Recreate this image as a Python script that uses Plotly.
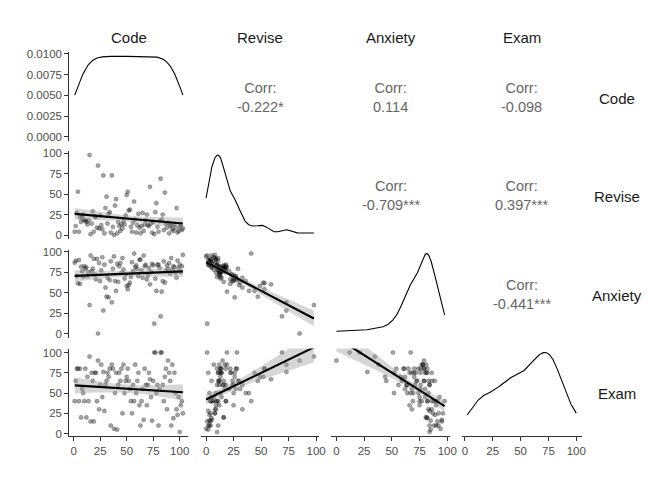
import numpy as np
import plotly.graph_objects as go

# ---------------- data ----------------
code = [1, 2, 3, 4, 5, 6, 7, 8, 9, 10, 11, 12, 13, 14, 15, 16, 17, 18, 19, 20,
        21, 22, 23, 24, 25, 26, 27, 28, 29, 30, 31, 32, 33, 34, 35, 36, 37, 38, 39, 40,
        41, 42, 43, 44, 45, 46, 47, 48, 49, 50, 51, 52, 53, 54, 55, 56, 57, 58, 59, 60,
        61, 62, 63, 64, 65, 66, 67, 68, 69, 70, 71, 72, 73, 74, 75, 76, 77, 78, 79, 80,
        81, 82, 83, 84, 85, 86, 87, 88, 89, 90, 91, 92, 93, 94, 95, 96, 97, 98, 99, 100,
        101, 102, 103]

revise = [4, 11, 27, 53, 4, 22, 16, 21, 25, 18, 18, 16, 13, 18, 98, 1, 14, 29, 4, 23,
          22, 9, 85, 8, 24, 12, 7, 73, 2, 33, 47, 14, 26, 28, 3, 73, 10, 0, 36, 44,
          2, 16, 11, 5, 13, 8, 17, 13, 24, 49, 53, 30, 31, 10, 4, 15, 41, 19, 3, 12,
          26, 9, 2, 11, 27, 5, 13, 18, 25, 12, 11, 59, 14, 3, 16, 1, 28, 39, 10, 4,
          17, 69, 19, 25, 6, 52, 14, 9, 15, 2, 12, 11, 7, 5, 13, 9, 33, 3, 5, 10,
          12, 6, 8]

anxiety = [86.298, 88.716, 70.178, 61.312, 89.522, 60.506, 81.462, 75.82, 69.372, 82.268,
           79.044, 80.656, 70.178, 75.014, 34.714, 95.164, 75.82, 79.044, 91.134, 71.79,
           66.0, 91.0, 0.056, 86.0, 64.0, 77.0, 93.0, 28.0, 84.0, 56.0,
           45.0, 68.0, 44.0, 65.0, 88.0, 38.0, 79.0, 94.0, 64.0, 52.0,
           85.0, 63.0, 82.0, 86.0, 74.0, 92.0, 78.0, 67.0, 72.0, 58.0,
           54.0, 59.0, 62.0, 69.0, 87.0, 76.0, 97.582, 81.0, 83.0, 79.0,
           70.0, 90.0, 90.0, 77.0, 68.0, 95.0, 82.0, 84.0, 66.0, 71.0,
           80.0, 60.0, 75.0, 85.0, 83.0, 12.0, 67.0, 52.0, 84.0, 84.0,
           80.0, 21.0, 51.0, 64.0, 88.0, 62.0, 76.0, 83.0, 79.0, 86.0,
           73.0, 92.0, 78.0, 82.0, 81.0, 74.0, 68.0, 89.0, 80.0, 84.0,
           75.0, 82.0, 96.0]

exam = [40, 65, 80, 80, 40, 80, 20, 55, 50, 40, 80, 20, 70, 40, 95, 15, 75, 65, 15, 75,
        75, 40, 90, 30, 60, 85, 45, 76, 28, 60, 65, 75, 70, 80, 10, 85, 80, 6, 50, 75,
        5, 60, 75, 65, 80, 25, 85, 50, 65, 70, 80, 65, 55, 40, 25, 60, 40, 85, 50, 65,
        75, 35, 10, 40, 55, 17, 80, 60, 35, 60, 75, 67, 45, 16, 65, 100, 100, 50, 60, 10,
        55, 100, 100, 60, 40, 70, 80, 30, 90, 75, 65, 10, 85, 19, 75, 50, 30, 23, 45, 2,
        35, 40, 25]

var_names = ["Code", "Revise", "Anxiety", "Exam"]
corr_pairs = [(0, 1), (0, 2), (0, 3), (1, 2), (1, 3), (2, 3)]
corr_text = ["-0.222*", "0.114", "-0.098", "-0.709***", "0.397***", "-0.441***"]

value_ticks = [0, 25, 50, 75, 100]
density_ticks = [0.0, 0.0025, 0.005, 0.0075, 0.01]
density_ticklabels = ["0.0000", "0.0025", "0.0050", "0.0075", "0.0100"]

# ---------------- layout geometry (pixels, page coordinates) ----------------
W, H = 672, 480
OFF = 8  # page body margin offset
col_px = [(69.3, 188.3), (200.7, 319.3), (331.0, 450.0), (461.7, 581.7)]
row_px = [(52.3, 141.0), (151.0, 239.0), (249.5, 337.5), (348.5, 436.0)]


def fx(p):
    return (p - OFF) / W


def fy(p):
    return 1 - (p - OFF) / H


data = [np.array(code, float), np.array(revise, float),
        np.array(anxiety, float), np.array(exam, float)]


def rng(v):
    lo, hi = v.min(), v.max()
    p = 0.05 * (hi - lo)
    return [lo - p, hi + p]


def kde(v):
    n = len(v)
    sd = v.std(ddof=1)
    iqr = np.percentile(v, 75) - np.percentile(v, 25)
    bw = 0.9 * min(sd, iqr / 1.34) * n ** (-0.2)
    g = np.linspace(v.min(), v.max(), 512)
    d = np.exp(-0.5 * ((g[:, None] - v[None, :]) / bw) ** 2).sum(1) / (n * bw * np.sqrt(2 * np.pi))
    return g, d


def lmfit(x, y):
    n = len(x)
    b, a = np.polyfit(x, y, 1)
    xs = np.linspace(x.min(), x.max(), 80)
    yh = a + b * xs
    res = y - (a + b * x)
    s = np.sqrt((res ** 2).sum() / (n - 2))
    sxx = ((x - x.mean()) ** 2).sum()
    se = s * np.sqrt(1.0 / n + (xs - x.mean()) ** 2 / sxx)
    t = 1.9837
    return xs, yh, yh + t * se, yh - t * se


fig = go.Figure()
layout = {}
FONT = "Liberation Sans, Arial, sans-serif"
AXC = "#333333"
TICKC = "#4D4D4D"

for i in range(4):
    for j in range(4):
        k = i * 4 + j + 1
        xa = "x" if k == 1 else f"x{k}"
        ya = "y" if k == 1 else f"y{k}"
        xdom = [fx(col_px[j][0]), fx(col_px[j][1])]
        ydom = [fy(row_px[i][1]), fy(row_px[i][0])]
        xr = rng(data[j])
        xaxis = dict(domain=xdom, anchor=ya, range=xr, showgrid=False, zeroline=False,
                     showline=False, showticklabels=False, ticks="", fixedrange=True,
                     automargin=False)
        yaxis = dict(domain=ydom, anchor=xa, showgrid=False, zeroline=False,
                     showline=False, showticklabels=False, ticks="", fixedrange=True,
                     automargin=False)
        if i == 3:
            xaxis.update(showline=True, linecolor=AXC, linewidth=1.1, ticks="outside",
                         ticklen=4, tickwidth=1.1, tickcolor=AXC, showticklabels=True,
                         tickvals=value_ticks, ticktext=[str(v) for v in value_ticks],
                         tickfont=dict(size=11.5, color=TICKC, family=FONT))
        if i == j:
            g, d = kde(data[i])
            yaxis["range"] = [-0.05 * d.max(), 1.05 * d.max()]
            fig.add_trace(go.Scatter(x=g, y=d, mode="lines", xaxis=xa, yaxis=ya,
                                     line=dict(color="black", width=1.1),
                                     hoverinfo="skip", showlegend=False))
        elif i > j:
            yaxis["range"] = rng(data[i])
            fig.add_trace(go.Scatter(x=data[j], y=data[i], mode="markers", xaxis=xa, yaxis=ya,
                                     marker=dict(size=4.2, color="rgba(0,0,0,0.36)",
                                                 line=dict(width=0.6, color="rgba(0,0,0,0.35)")),
                                     hoverinfo="skip", showlegend=False))
            xs, yh, up, lo = lmfit(data[j], data[i])
            fig.add_trace(go.Scatter(x=np.concatenate([xs, xs[::-1]]),
                                     y=np.concatenate([up, lo[::-1]]),
                                     mode="lines", fill="toself", xaxis=xa, yaxis=ya,
                                     fillcolor="rgba(153,153,153,0.4)", line=dict(width=0),
                                     hoverinfo="skip", showlegend=False))
            fig.add_trace(go.Scatter(x=xs, y=yh, mode="lines", xaxis=xa, yaxis=ya,
                                     line=dict(color="black", width=2.1),
                                     hoverinfo="skip", showlegend=False))
        else:
            yaxis["range"] = [0, 1]
        if j == 0:
            yaxis.update(showline=True, linecolor=AXC, linewidth=1.1, ticks="outside",
                         ticklen=4, tickwidth=1.1, tickcolor=AXC, showticklabels=True,
                         tickfont=dict(size=11.5, color=TICKC, family=FONT))
            if i == 0:
                yaxis.update(tickvals=density_ticks, ticktext=density_ticklabels)
            else:
                yaxis.update(tickvals=value_ticks, ticktext=[str(v) for v in value_ticks])
        layout["xaxis" if k == 1 else f"xaxis{k}"] = xaxis
        layout["yaxis" if k == 1 else f"yaxis{k}"] = yaxis

annotations = []
for (i, j), txt in zip(corr_pairs, corr_text):
    cx = fx((col_px[j][0] + col_px[j][1]) / 2)
    cy = fy((row_px[i][0] + row_px[i][1]) / 2 + 1)
    annotations.append(dict(x=cx, y=cy, xref="paper", yref="paper", showarrow=False,
                            text="Corr:<br>" + txt, align="center",
                            font=dict(size=14.5, color="#666666", family=FONT),
                            xanchor="center", yanchor="middle"))
for j, name in enumerate(var_names):
    cx = fx((col_px[j][0] + col_px[j][1]) / 2)
    annotations.append(dict(x=cx, y=fy(37.5), xref="paper", yref="paper", showarrow=False,
                            text=name, font=dict(size=15, color="#1A1A1A", family=FONT),
                            xanchor="center", yanchor="middle"))
for i, name in enumerate(var_names):
    cy = fy((row_px[i][0] + row_px[i][1]) / 2 + 1.5)
    annotations.append(dict(x=fx(617), y=cy, xref="paper", yref="paper", showarrow=False,
                            text=name, font=dict(size=15, color="#1A1A1A", family=FONT),
                            xanchor="center", yanchor="middle"))

fig.update_layout(width=W, height=H, margin=dict(l=0, r=0, t=0, b=0, autoexpand=False),
                  paper_bgcolor="white", plot_bgcolor="white",
                  annotations=annotations, font=dict(family=FONT), **layout)

fig.write_html("out.html")
